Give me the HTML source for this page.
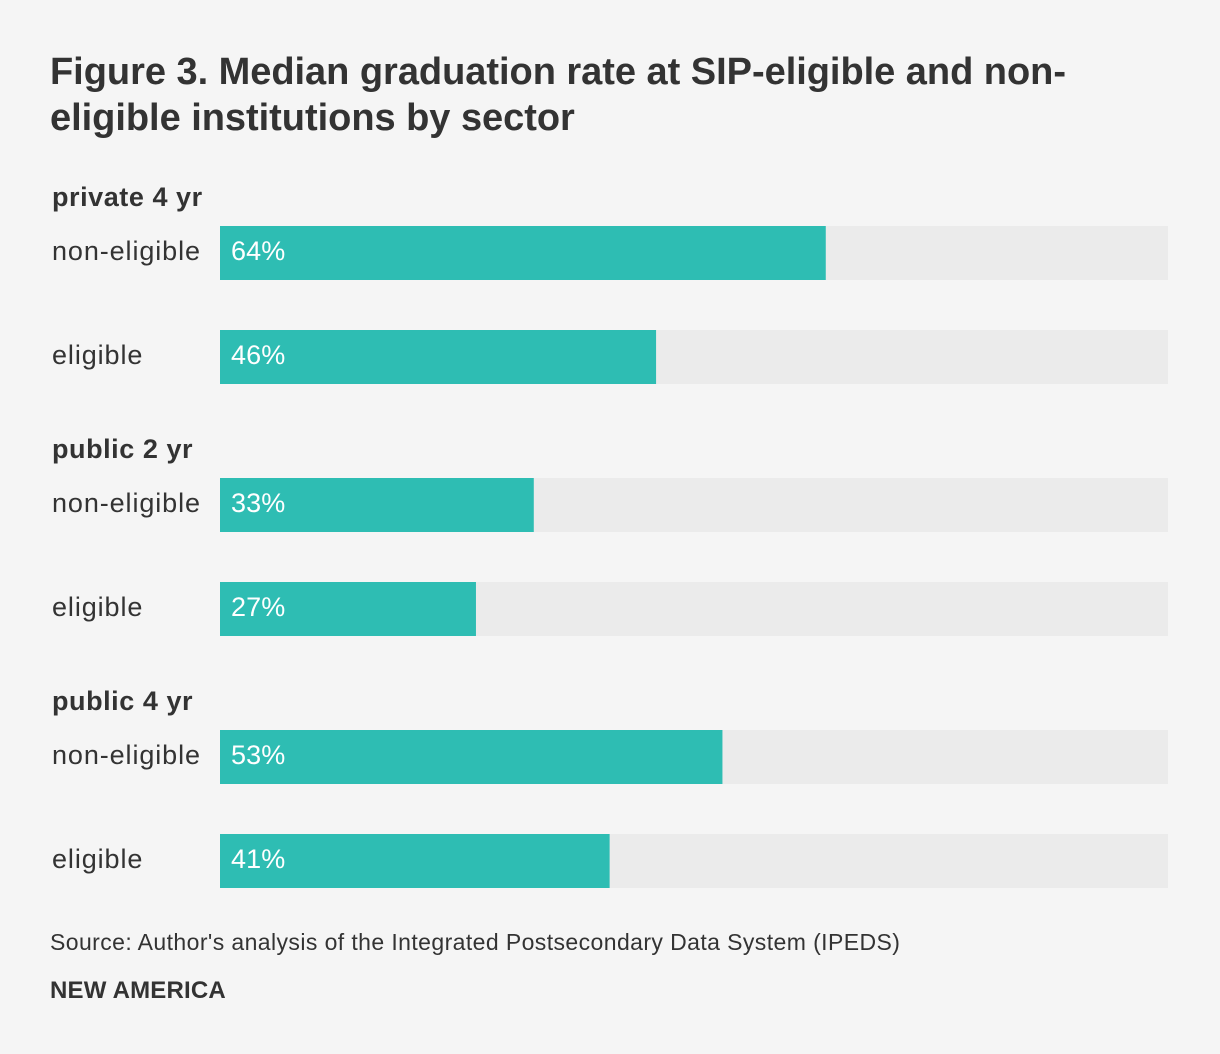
<!DOCTYPE html>
<html lang="en">
<head>
<meta charset="utf-8">
<title>Figure 3</title>
<style>
html,body{margin:0;padding:0;background:#f5f5f5;}
body{width:1220px;height:1054px;position:relative;overflow:hidden;font-family:"Liberation Sans",sans-serif;color:#333;}
svg{position:absolute;left:0;top:0;}
.t{position:absolute;white-space:nowrap;margin:0;}
#title{left:50px;top:49px;font-size:38px;line-height:46px;font-weight:bold;letter-spacing:-.03px;}
#source{left:50px;top:928px;font-size:23px;line-height:28px;letter-spacing:.41px;}
#brand{left:50px;top:977px;font-size:24px;line-height:28px;font-weight:bold;letter-spacing:.2px;}
</style>
</head>
<body>
<h1 class="t" id="title">Figure 3. Median graduation rate at SIP-eligible and non-<br>eligible institutions by sector</h1>
<svg id="chart" width="1220" height="1054"></svg>
<p class="t" id="source">Source: Author's analysis of the Integrated Postsecondary Data System (IPEDS)</p>
<p class="t" id="brand">NEW AMERICA</p>
<script>
const sectors = ["private 4 yr", "public 2 yr", "public 4 yr"];
const rowLabels = ["non-eligible", "eligible"];
const nonEligibleValues = [63.9, 33.1, 53];
const eligibleValues = [46, 27, 41.1];

const NS = "http://www.w3.org/2000/svg";
const svg = document.getElementById("chart");
const FONT = '"Liberation Sans", sans-serif';
const plotLeft = 220, plotWidth = 948, barHeight = 54;

function xScale(v) { return plotWidth * v / 100; }
function groupTop(i) { return 226 + i * 252; }
function rowTop(i, r) { return groupTop(i) + r * 104; }

function addText(str, x, y, size, fill, weight, spacing) {
  const t = document.createElementNS(NS, "text");
  t.setAttribute("x", x);
  t.setAttribute("y", y);
  t.setAttribute("font-size", size);
  t.setAttribute("font-family", FONT);
  t.setAttribute("fill", fill);
  t.setAttribute("font-weight", weight);
  t.setAttribute("letter-spacing", spacing);
  t.textContent = str;
  svg.appendChild(t);
  return t;
}
function addRect(x, y, w, h, fill) {
  const r = document.createElementNS(NS, "rect");
  r.setAttribute("x", x);
  r.setAttribute("y", y);
  r.setAttribute("width", w);
  r.setAttribute("height", h);
  r.setAttribute("fill", fill);
  svg.appendChild(r);
  return r;
}

sectors.forEach(function (sector, i) {
  const head = addText(sector, 52, groupTop(i) - 20, 27, "#333333", "bold", 0.55);
  
  

  [nonEligibleValues[i], eligibleValues[i]].forEach(function (value, r) {
    const y = rowTop(i, r);
    const label = addText(rowLabels[r], 52, y + 34, 27, "#333333", "normal", 0.9);
    
    

    const track = addRect(plotLeft, y, plotWidth, barHeight, "#ebebeb");
    
    

    const bar = addRect(plotLeft, y, xScale(value), barHeight, "#2ebdb3");
    
    

    const valueLabel = addText(Math.round(value) + "%", plotLeft + 11, y + 34, 27, "#ffffff", "normal", 0.1);
    
    
  });
});
</script>
</body>
</html>
